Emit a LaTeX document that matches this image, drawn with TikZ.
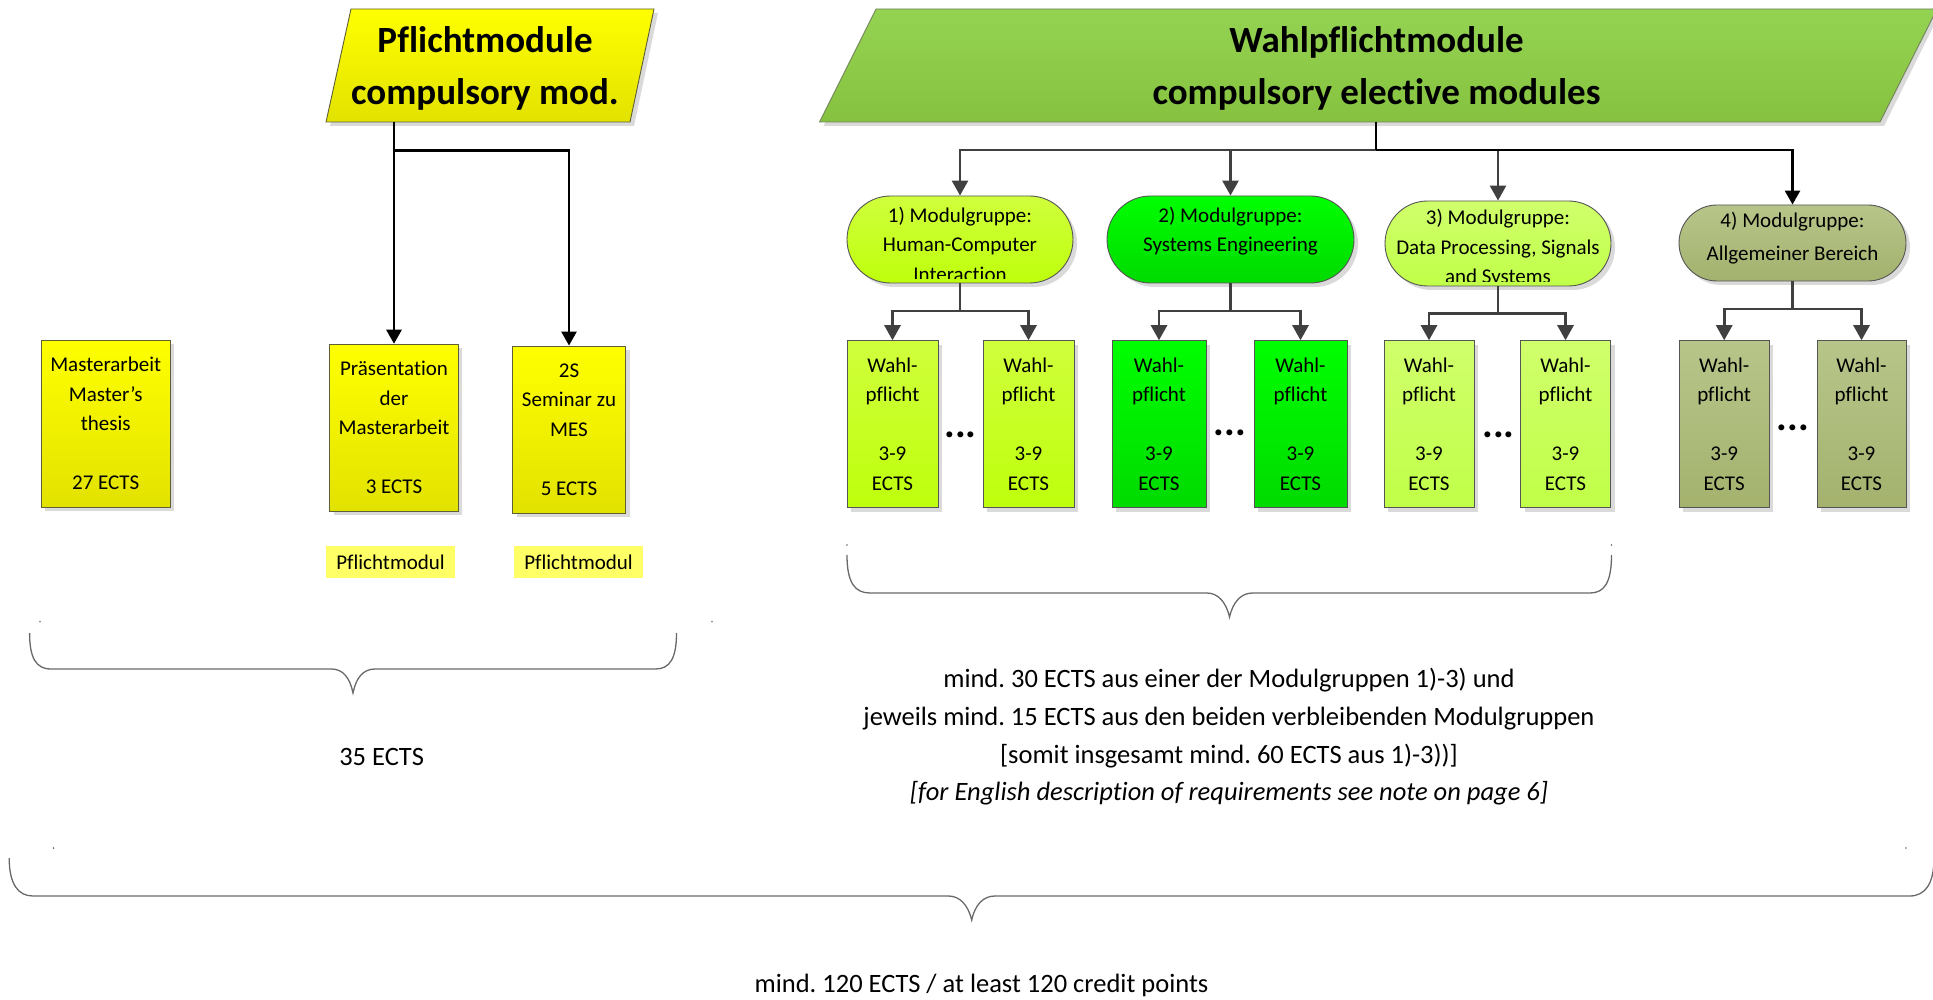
\documentclass[tikz,border=0pt]{standalone}
\usepackage{fontspec}
\setmainfont{Carlito}[Ligatures=NoCommon]
\frenchspacing
\usetikzlibrary{arrows.meta,shapes.misc,shadows}

\definecolor{ytop}{HTML}{FFFF00}
\definecolor{ybot}{HTML}{E2E200}
\definecolor{yborder}{RGB}{95,95,55}
\definecolor{ylab}{HTML}{FFFF66}
\definecolor{wtop}{HTML}{94D352}
\definecolor{wbot}{HTML}{86C23F}
\definecolor{wborder}{RGB}{115,130,95}
\definecolor{gborder}{RGB}{85,85,85}
\definecolor{gAtop}{RGB}{208,255,60}
\definecolor{gAbot}{RGB}{190,255,12}
\definecolor{gBtop}{RGB}{0,255,0}
\definecolor{gBbot}{RGB}{0,218,0}
\definecolor{gCtop}{RGB}{208,255,108}
\definecolor{gCbot}{RGB}{192,255,72}
\definecolor{gDtop}{RGB}{183,197,138}
\definecolor{gDbot}{RGB}{164,178,110}
\definecolor{conn}{RGB}{64,64,64}
\definecolor{shadowc}{RGB}{218,218,218}
\definecolor{bracec}{RGB}{105,105,105}

\newcommand\bxfont{\fontsize{21}{29.5}\selectfont}
\newcommand\ttlfont{\fontsize{37}{52}\selectfont\bfseries}
\newcommand\txtfont{\fontsize{26.5}{37.7}\selectfont}
\newcommand\dotfont{\fontsize{40}{40}\selectfont\bfseries}

\tikzset{
  shd/.style={drop shadow={shadow xshift=4pt,shadow yshift=-4pt,fill=shadowc,opacity=1}},
  modbox/.style={rectangle, line width=0.9pt, inner sep=0pt, align=center, font=\bxfont, shd},
  ybox/.style={modbox, draw=yborder, top color=ytop, bottom color=ybot, minimum height=167pt},
  gabox/.style={modbox, draw=gborder, top color=gAtop, bottom color=gAbot, minimum height=167pt},
  gbbox/.style={modbox, draw=gborder, top color=gBtop, bottom color=gBbot, minimum height=167pt},
  gcbox/.style={modbox, draw=gborder, top color=gCtop, bottom color=gCbot, minimum height=167pt},
  gdbox/.style={modbox, draw=gborder, top color=gDtop, bottom color=gDbot, minimum height=167pt},
  pill/.style={rounded rectangle, line width=0.9pt, draw=gborder, inner sep=0pt, shd},
  pilltext/.style={align=center, font=\bxfont, inner sep=0pt},
  lab/.style={fill=ylab, inner sep=0pt, minimum width=129pt, minimum height=32pt, font=\bxfont},
  ttl/.style={align=center, font=\ttlfont, inner sep=0pt},
  txt/.style={align=center, font=\txtfont, inner sep=0pt},
  dotsn/.style={anchor=base, font=\dotfont, inner sep=0pt},
  barrow/.style={draw=black, line width=2.7pt, -{Triangle[width=15pt,length=14pt]}},
  garrow/.style={draw=conn, line width=2.7pt, -{Triangle[width=16pt,length=15pt]}},
  bline/.style={draw=black, line width=2.7pt},
  gline/.style={draw=conn, line width=2.7pt},
  brace/.style={draw=bracec, line width=1.3pt},
  speck/.style={fill=bracec},
}

\begin{document}
\begin{tikzpicture}[x=1pt,y=-1pt]
\useasboundingbox (0,0) rectangle (1933,1000);

% ---------- Pflicht parallelogram ----------
\fill[shadowc] (355,13) -- (658,13) -- (634,126) -- (330,126) -- cycle;
\shade[top color=ytop, bottom color=ybot, draw=yborder, line width=0.9pt]
  (351,9) -- (654,9) -- (630,122) -- (326,122) -- cycle;
\node[ttl] (pft) at (485,68) {Pflichtmodule\\compulsory mod.};

% ---------- Wahl parallelogram ----------
\fill[shadowc] (880,13) -- (1940,13) -- (1884,126) -- (823.5,126) -- cycle;
\shade[top color=wtop, bottom color=wbot, draw=wborder, line width=0.9pt]
  (876,9) -- (1937,9) -- (1880,122) -- (819.5,122) -- cycle;
\node[ttl] (wpt) at (1376.5,68.5) {Wahlpflichtmodule\\compulsory elective modules};

% ---------- Pflicht boxes ----------
\node[ybox, minimum width=129pt] (ma) at (105.7,423.7)
  {Masterarbeit\\Master’s\\thesis\\[29.5pt]27 ECTS};
\node[ybox, minimum width=128.4pt] (pres) at (394,427.7)
  {Präsentation\\der\\Masterarbeit\\[29.5pt]3 ECTS};
\node[ybox, minimum width=113pt] (sem) at (569,429.5)
  {2S\\Seminar zu\\MES\\[29.5pt]5 ECTS};
\node[lab] (lab1) at (390.5,562) {Pflichtmodul};
\node[lab] (lab2) at (578.5,562) {Pflichtmodul};

\coordinate (po) at (394,122);
\coordinate (pj) at (394,150.5);
\draw[barrow] (po) -- (pres.north);
\draw[barrow] (pj) -| (sem.north);

% ---------- Modulgruppen ----------
\node[pill, top color=gAtop, bottom color=gAbot, minimum width=226pt, minimum height=87pt] (g1) at (960,239.5) {};
\node[pill, top color=gBtop, bottom color=gBbot, minimum width=247pt, minimum height=87pt] (g2) at (1230.5,239.5) {};
\node[pill, top color=gCtop, bottom color=gCbot, minimum width=226pt, minimum height=85pt] (g3) at (1498,243.5) {};
\node[pill, top color=gDtop, bottom color=gDbot, minimum width=227pt, minimum height=76pt] (g4) at (1792.5,243) {};

\begin{scope}
  \clip (847,190) rectangle (1073,279);
  \node[pilltext] (g1t) at (960,244) {1) Modulgruppe:\\Human-Computer\\Interaction};
\end{scope}
\node[pilltext] (g2t) at (1230.5,231) {2) Modulgruppe:\\Systems Engineering};
\begin{scope}
  \clip (1385,190) rectangle (1611,282);
  \node[pilltext] (g3t) at (1498,248.5) {3) Modulgruppe:\\Data Processing, Signals\\and Systems};
\end{scope}
\node[pilltext, font=\fontsize{21}{33}\selectfont] (g4t) at (1792.5,238.5) {4) Modulgruppe:\\Allgemeiner Bereich};

\coordinate (wo) at (1376,122);
\coordinate (wj) at (1376,150);
\draw[garrow] (wj) -| (g1.north);
\draw[garrow] (wj) -| (g2.north);
\draw[garrow] (wj) -| (g3.north);
\draw[bline] (wo) -- (wj);
\draw[barrow] (wj) -| (g4.north);

% ---------- Wahlpflicht boxes ----------
\node[gabox, minimum width=91pt] (g1a) at (892.5,424.2) {Wahl-\\pflicht\\[29.5pt]3-9\\ECTS};
\node[gabox, minimum width=91pt] (g1b) at (1028.5,424.2) {Wahl-\\pflicht\\[29.5pt]3-9\\ECTS};
\node[gbbox, minimum width=94pt] (g2a) at (1159,424.2) {Wahl-\\pflicht\\[29.5pt]3-9\\ECTS};
\node[gbbox, minimum width=93pt] (g2b) at (1300.5,424.2) {Wahl-\\pflicht\\[29.5pt]3-9\\ECTS};
\node[gcbox, minimum width=90pt] (g3a) at (1429,424.2) {Wahl-\\pflicht\\[29.5pt]3-9\\ECTS};
\node[gcbox, minimum width=90pt] (g3b) at (1565.5,424.2) {Wahl-\\pflicht\\[29.5pt]3-9\\ECTS};
\node[gdbox, minimum width=89.5pt] (g4a) at (1724.2,424.2) {Wahl-\\pflicht\\[29.5pt]3-9\\ECTS};
\node[gdbox, minimum width=89pt] (g4b) at (1861.5,424.2) {Wahl-\\pflicht\\[29.5pt]3-9\\ECTS};

\coordinate (g1j) at (960,311);
\coordinate (g2j) at (1230.5,311);
\coordinate (g3j) at (1498,313.5);
\coordinate (g4j) at (1792.5,309);
\draw[gline] (g1.south) -- (g1j);
\draw[gline] (g2.south) -- (g2j);
\draw[gline] (g3.south) -- (g3j);
\draw[gline] (g4.south) -- (g4j);
\draw[garrow] (g1j) -| (g1a.north);
\draw[garrow] (g1j) -| (g1b.north);
\draw[garrow] (g2j) -| (g2a.north);
\draw[garrow] (g2j) -| (g2b.north);
\draw[garrow] (g3j) -| (g3a.north);
\draw[garrow] (g3j) -| (g3b.north);
\draw[garrow] (g4j) -| (g4a.north);
\draw[garrow] (g4j) -| (g4b.north);

\node[dotsn] (d1) at (960.5,437.6) {...};
\node[dotsn] (d2) at (1230,435.6) {...};
\node[dotsn] (d3) at (1498.5,437.6) {...};
\node[dotsn] (d4) at (1793,430.6) {...};

% ---------- braces ----------
\draw[brace] (29.6,633) .. controls (29.6,658) and (36,669) .. (51,669) -- (331.6,669)
  .. controls (343,669) and (350,678) .. (353,693)
  .. controls (356,678) and (363,669) .. (375,669) -- (655.6,669)
  .. controls (670,669) and (676.5,658) .. (676.5,633);
\draw[brace] (847,555) .. controls (847,583) and (855,593) .. (870,593) -- (1206.8,593)
  .. controls (1218,593) and (1226,602) .. (1229.5,617)
  .. controls (1233,602) and (1241,593) .. (1252.5,593) -- (1590,593)
  .. controls (1604,593) and (1611.5,583) .. (1611.5,555);
\draw[brace] (9.2,858) .. controls (9.2,884) and (18,896) .. (33,896) -- (948.3,896)
  .. controls (960,896) and (968,905) .. (971.7,920)
  .. controls (975,905) and (983,896) .. (995,896) -- (1909.6,896)
  .. controls (1925,896) and (1934,884) .. (1934,858);
\fill[speck] (40,621.7) circle (0.9);
\fill[speck] (712,621.7) circle (0.9);
\fill[speck] (847,545) circle (0.9);
\fill[speck] (1611.5,545) circle (0.9);
\fill[speck] (53.6,848) circle (0.9);
\fill[speck] (1906,848) circle (0.9);

% ---------- texts ----------
\node[txt] (t35) at (381.6,757) {35 ECTS};
\node[txt] (req) at (1229,737)
  {mind. 30 ECTS aus einer der Modulgruppen 1)-3) und\\
   jeweils mind. 15 ECTS aus den beiden verbleibenden Modulgruppen\\
   {[}somit insgesamt mind. 60 ECTS aus 1)-3)){]}\\
   \textit{[for English description of requirements see note on page 6]}};
\node[txt] (tot) at (981.5,985) {mind. 120 ECTS / at least 120 credit points};
\end{tikzpicture}
\end{document}
